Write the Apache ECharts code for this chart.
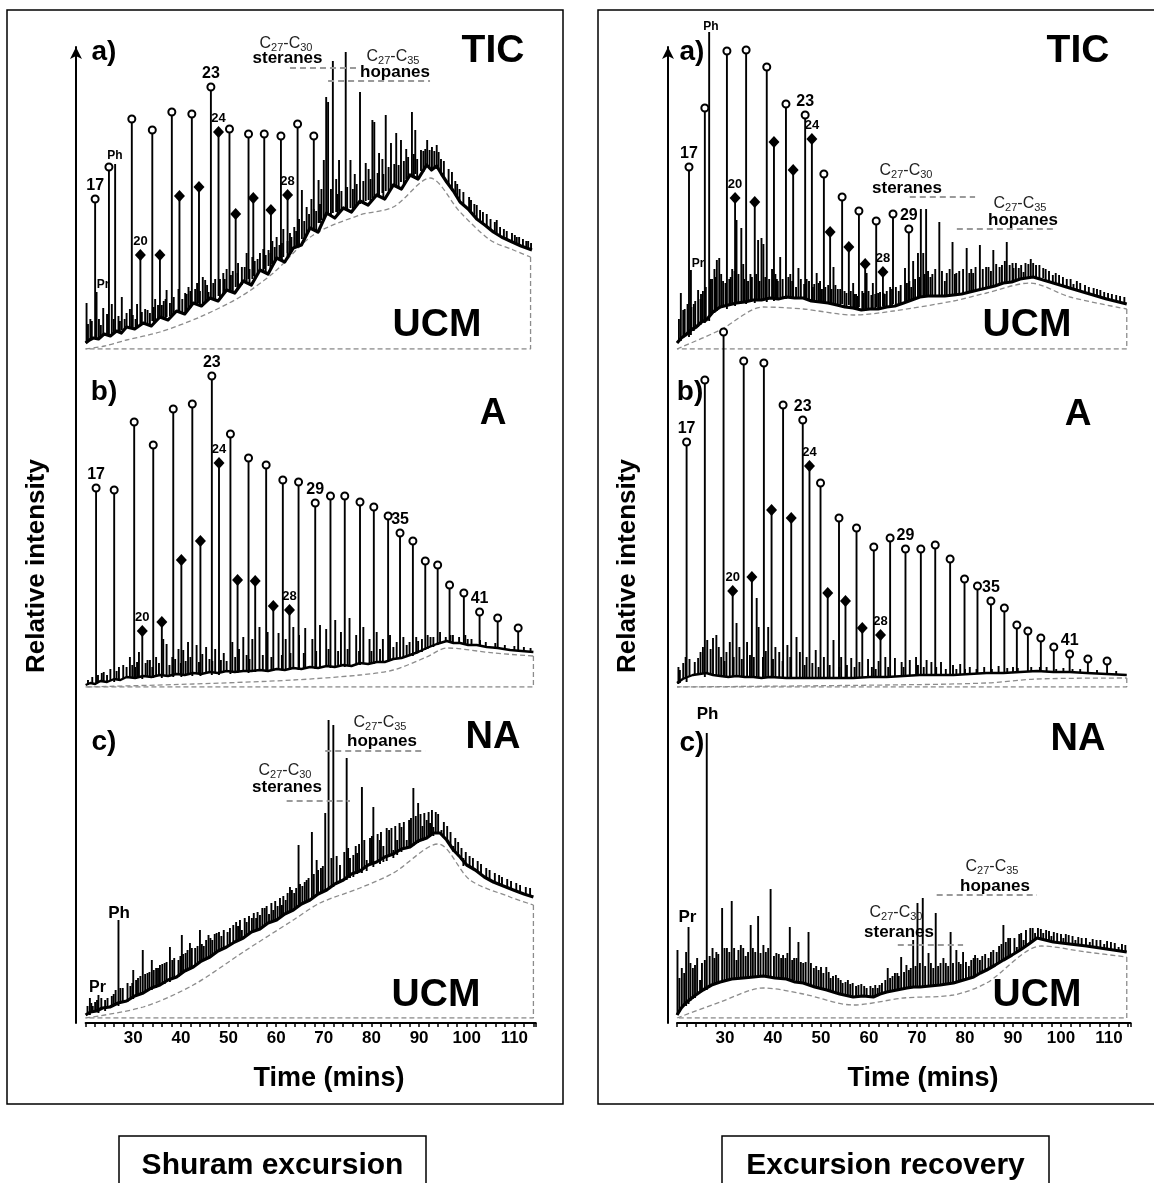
<!DOCTYPE html>
<html><head><meta charset="utf-8">
<script src="https://cdn.jsdelivr.net/npm/echarts@6/dist/echarts.min.js"></script>
<style>html,body{margin:0;padding:0;background:#fff}#c{width:1154px;height:1183px}</style>
</head><body><div id="c"></div>
<script>
// ---------------- DATA (time in min, intensity in relative units) ----------------
const xTickLabels = [30,40,50,60,70,80,90,100,110];

// ===== Shuram excursion (left) =====
// a) TIC
const sA_base = [[20,6],[20.8,9],[21.6,11],[22.7,10],[23.9,15],[25.2,13],[26.5,18],[27.5,16],[28.6,22],[30.3,20],[32.1,26],[33.8,23],[35.6,32],[37.3,29],[39.1,38],[40.8,35],[42.6,46],[44.3,43],[46.1,51],[47.8,48],[49.6,59],[51.3,56],[53.1,68],[54.8,64],[56.6,79],[58.3,75],[60.1,91],[61.8,87],[63.6,101],[65.3,104],[67.1,121],[68.8,117],[70.6,136],[72.3,131],[74.1,141],[75.8,137],[77.6,148],[79.3,144],[81.1,154],[82.8,150],[84.6,164],[86.3,160],[88.1,174],[89.8,170],[91.6,184],[92.6,179],[93.7,183],[94.7,175],[95.8,167],[97.2,158],[98.6,147],[100.3,140],[102.1,130],[103.8,124],[105.6,117],[107.3,112],[109.1,108],[111.4,103],[113.7,99]];
const sA_ucm = [[20,0],[24,3],[28.6,9],[35.6,17],[44,32],[52.4,52],[59.4,76],[67.8,114],[77.6,134],[84.6,142],[92.3,171],[98.6,137],[104.9,109],[109.8,99],[113.4,92]];
const sA_peaks = [[20.2,6,46],[22.3,11,57],[23.7,13,41],[26.2,16,185],[27.6,19,52],[28.6,21,36],[31.8,24,37],[33.0,25,39],[37.0,32,59],[37.7,33,46],[40.9,37,56],[45.1,48,69],[45.8,49,57],[48.9,56,76],[52.8,64,82],[53.8,68,96],[56.6,77,96],[58.4,83,99],[60.1,89,112],[62.9,97,116],[65.4,110,159],[66.4,115,142],[68.9,126,169],[70.0,131,189],[70.5,133,252],[70.9,134,247],[71.9,136,288],[73.2,138,189],[74.6,139,297],[75.6,141,189],[77.6,145,257],[78.8,148,186],[80.2,151,229],[80.6,152,227],[81.6,154,196],[83.0,158,234],[84.1,161,206],[85.2,164,216],[86.2,167,209],[88.5,173,237],[89.2,175,219],[90.4,178,199],[91.7,182,209],[92.7,181,202],[93.7,180,204],[96.9,158,177],[102.1,129,144],[106.3,114,129],[110.5,104,112],
  [21.0,9,30],[24.5,14,35],[25.5,14,45],[29.3,21,40],[30.8,22,45],[34.6,28,50],[36.4,30,48],[39.5,36,60],[41.6,40,62],[43.4,44,66],[44.6,46,72],[47.2,50,70],[49.6,57,80],[50.9,58,78],[52.0,62,86],[55.0,70,92],[57.3,78,100],[59.2,85,108],[61.5,92,120],[63.8,101,122],[64.8,104,130],[67.4,120,150],[69.5,129,160],[72.6,137,170],[76.5,142,175],[79.4,149,180],[82.3,156,190],[87.3,170,200],[94.6,176,190],[98.5,147,160],[100.5,139,152],[104.2,122,135],[108.4,109,118],[112.5,101,108]];
const sA_noise = [[20.5,7,25],[21.3,10,28],[22.8,11,30],[23.2,12,24],[25.9,15,30],[26.9,17,33],[27.2,17,28],[28.2,19,30],[29.9,21,34],[30.5,21,30],[32.5,25,40],[33.5,24,36],[34.3,27,42],[35.2,29,44],[36.0,31,44],[36.8,31,50],[38.5,34,52],[40.3,37,50],[41.2,38,55],[42.0,41,58],[43.0,45,60],[44.0,45,58],[45.5,48,64],[46.8,50,66],[48.2,52,70],[49.2,56,70],[50.5,58,74],[51.9,59,76],[53.4,66,82],[54.4,66,80],[55.5,70,88],[56.1,74,90],[57.8,77,94],[58.8,80,96],[59.7,86,102],[60.7,89,104],[61.2,89,106],[62.4,93,108],[63.2,97,112],[64.2,102,118],[65.9,110,128],[66.9,117,135],[67.9,120,140],[68.4,119,138],[69.2,126,145],[71.5,133,160],[72.9,134,155],[73.7,138,158],[74.9,139,162],[76.1,140,160],[76.9,144,165],[78.3,146,168],[79.8,148,170],[81.3,153,176],[82.5,152,175],[83.6,158,182],[84.8,162,185],[85.7,162,184],[86.8,165,188],[87.7,170,192],[88.9,172,195],[89.6,171,190],[90.9,177,198],[91.3,181,200],[92.2,182,199],[93.2,180,198],[94.1,181,197],[95.2,172,188],[96.2,165,180],[97.6,155,168],[98.0,152,165],[99.3,145,157],[100.9,137,149],[101.6,133,145],[102.8,128,139],[103.4,126,137],[105.0,120,130],[105.9,116,127],[107.0,113,122],[107.8,111,120],[109.5,107,116],[110.1,105,114],[111.0,104,112],[111.8,102,110],[112.9,101,108],[113.5,99,106]];
const sA_alk = [[22.0,10,150],[24.9,14,182],[29.7,21,230],[34.0,28,219],[38.1,34,237],[42.3,44,235],[46.3,51,262],[50.2,59,220],[54.2,70,215],[57.5,80,215],[61.0,91,213],[64.5,102,225],[67.9,120,213]];
const sA_dia = [[31.5,24,94],[35.6,30,94],[39.7,36,153],[43.8,46,162],[47.9,53,217],[51.5,62,135],[55.2,73,151],[58.9,85,139],[62.4,96,154]];
const sA_alkLab = [[0,'17'],[6,'23']];
const sA_diaLab = [[0,'20'],[4,'24'],[8,'28']];
const sA_ster = [62.9,76.9,281];
const sA_hop = [70.9,92.3,268];

// b) A (aliphatic)
const sB_base = [[20,2],[21,4],[22,3],[23.1,6],[24.5,5],[26,8],[27.3,7],[28.6,10],[30.4,9],[32.1,11],[33.8,10],[35.6,12],[37.3,11],[39.1,13],[40.8,12],[42.6,14],[44.3,13],[46.1,15],[47.8,14],[49.6,16],[51.3,15],[53.1,16],[54.8,16],[56.6,17],[58.3,16],[60.1,18],[61.8,17],[63.6,19],[65.3,18],[67.1,20],[68.8,19],[70.6,21],[72.3,20],[74.1,22],[75.8,21],[77.6,24],[79.3,23],[81.1,25],[82.8,25],[84.6,28],[86.3,29],[88.1,32],[89.8,35],[91.6,39],[93.7,43],[95.8,46],[97.2,44],[98.6,44],[100.3,42],[102.1,42],[104.2,40],[106.5,39],[109.1,37],[111.5,36],[114,35]];
const sB_ucm = [[20,0],[42.6,3],[63.6,7],[77.6,12],[84.6,17],[91.6,30],[95.8,39],[105.6,34],[114,31]];
const sB_peaks = [[20.5,2,7],[23.4,5,14],[27.9,8,22],[28.6,9,20],[33.0,11,27],[33.5,11,27],[37.0,12,43],[40.5,13,37],[45.3,13,40],[49.0,15,34],[53.1,15,50],[56.5,16,60],[60.5,17,54],[63.6,18,60],[66.1,19,59],[69.2,20,62],[72.4,21,67],[75.4,22,69],[78.3,23,60],[81.1,25,55],[83.9,27,52],[86.7,29,50],[89.4,33,50],[91.8,38,52],[94.4,43,55],[97.1,45,52],[99.7,43,52],
  [24.5,5,12],[25.2,6,18],[29.3,9,30],[30.8,9,25],[31.2,9,35],[34.8,10,30],[36.3,11,48],[38.8,12,28],[39.5,12,38],[41.5,13,45],[43.3,13,42],[44.5,13,33],[47.2,14,38],[50.8,15,45],[52.2,15,38],[55.0,16,48],[58.2,16,55],[62.0,17,48],[64.8,18,52],[67.6,19,48],[70.5,20,58],[73.6,21,55],[76.8,22,52],[79.6,24,48],[82.4,26,48],[85.3,28,45],[88.0,31,45],[90.6,35,48],[93.0,40,50],[95.6,45,50],[98.4,44,50],[101,43,48],[104,41,45],[108,38,42],[112,36,40]];
const sB_noise = [[21.4,3,10],[22.6,4,12],[23.8,5,15],[26.5,7,16],[27.0,7,20],[29.8,9,22],[30.4,9,20],[32.6,10,24],[34.0,10,20],[35.4,11,24],[37.6,11,22],[38.2,12,30],[40.0,12,24],[41.0,12,26],[42.0,13,30],[43.8,13,25],[46.0,14,28],[46.6,14,26],[48.4,15,27],[49.6,15,26],[51.4,15,30],[53.8,16,32],[54.4,16,28],[57.2,16,32],[59.0,17,30],[61.2,17,32],[63.0,18,34],[65.8,19,34],[68.4,20,36],[71.0,21,38],[73.0,21,36],[75.0,22,38],[77.4,23,36],[80.0,24,36],[81.8,25,38],[84.6,27,40],[87.4,30,42],[89.8,34,46],[92.4,40,50],[96.6,45,52],[100.2,43,48],[102.8,42,47],[106,40,44],[110,37,41],[113.4,35,39]];
const sB_alk = [[22.2,3,199],[26.0,5,197],[30.2,8,265],[34.2,9,242],[38.4,10,278],[42.4,11,283],[46.5,12,311],[50.4,13,253],[54.2,14,229],[57.9,15,222],[61.4,16,207],[64.7,17,205],[68.2,18,184],[71.4,19,191],[74.4,20,191],[77.6,22,185],[80.5,23,180],[83.5,25,171],[86.0,28,154],[88.7,31,146],[91.3,37,126],[93.9,42,122],[96.4,45,102],[99.4,44,94],[102.7,42,75],[106.5,39,69],[110.8,36,59]];
const sB_dia = [[31.9,8,56],[36.0,9,65],[40.1,10,127],[44.1,11,146],[48.0,12,224],[51.9,14,107],[55.6,15,106],[59.4,16,81],[62.8,17,77]];
const sB_alkLab = [[0,'17'],[6,'23'],[12,'29'],[18,'35'],[24,'41']];
const sB_diaLab = [[0,'20'],[4,'24'],[8,'28']];

// c) NA (non-aliphatic)
const sC_base = [[20,3],[21,6],[22.3,7],[23.5,10],[25.1,11],[26.8,15],[28.6,17],[30.3,22],[32.1,25],[33.8,30],[35.6,33],[37.3,38],[39.1,41],[40.8,47],[42.6,51],[44.3,57],[46.1,61],[47.8,67],[49.6,71],[51.3,76],[53.1,80],[54.8,86],[56.6,89],[58.3,95],[60.1,98],[61.8,104],[63.6,108],[65.3,114],[67.1,118],[68.8,124],[70.6,128],[72.3,134],[74.1,138],[75.8,144],[77.6,147],[79.3,153],[81.1,156],[82.8,161],[84.6,164],[86.3,169],[88.1,171],[89.8,177],[91.6,180],[93,185],[94.4,185],[95.8,178],[97.2,168],[98.6,161],[100,153],[101.8,148],[103.7,141],[105.6,136],[107.7,132],[109.8,128],[112,124],[114,121]];
const sC_ucm = [[20,0],[32.1,11],[42.6,33],[53.1,66],[63.6,98],[69.2,115],[77.6,130],[84.6,145],[94,174],[100.7,138],[109.1,121],[114,113]];
const sC_peaks = [[20.9,3,20],[22.7,5,23],[24.1,7,18],[26.9,12,98],[30.0,19,48],[32.0,25,68],[33.9,28,58],[35.6,32,53],[37.7,36,71],[40.2,44,83],[41.9,49,75],[44.0,55,88],[45.8,59,83],[47.5,65,85],[51.0,75,93],[52.8,79,88],[54.9,85,100],[56.6,90,103],[59.4,96,108],[61.2,101,113],[62.9,106,131],[64.7,111,173],[66.4,116,138],[67.5,119,186],[68.5,122,158],[70.3,127,205],[71.0,129,298],[72.0,131,293],[73.4,135,153],[74.8,138,260],[76.2,141,163],[78.0,145,231],[79.0,147,158],[80.4,151,211],[81.8,154,178],[83.2,157,190],[84.6,160,168],[86.3,166,191],[87.4,169,178],[88.8,172,230],[89.8,175,215],[91.6,179,198],[93.0,182,191],[94.7,183,188],[97.2,166,172],[99.3,152,160],
  [21.5,5,12],[23.3,8,20],[25.5,11,22],[27.8,15,30],[28.8,16,35],[31.0,22,40],[33.0,27,45],[34.8,30,50],[36.6,34,55],[38.6,39,60],[39.5,41,58],[41.0,46,65],[43.0,52,70],[44.8,57,72],[46.6,62,78],[48.5,68,82],[49.8,71,86],[52.0,77,92],[53.8,82,96],[55.8,88,100],[57.6,92,110],[58.5,95,104],[60.3,99,112],[62.0,104,118],[63.8,108,125],[65.5,114,132],[69.4,125,150],[75.5,140,160],[77.0,144,165],[82.5,156,172],[85.4,163,178],[90.7,177,192],[92.3,181,195]];
const sC_noise = [[20.4,4,12],[21.2,6,15],[22.0,7,16],[22.4,7,18],[24.6,10,20],[25.9,13,24],[26.3,14,28],[27.3,15,30],[29.4,19,32],[29.8,21,35],[30.6,22,38],[31.5,23,42],[32.5,26,44],[33.4,28,46],[34.3,31,48],[35.2,32,50],[36.1,35,54],[37.0,37,56],[38.2,39,58],[39.9,44,62],[40.5,46,64],[41.4,48,68],[42.3,50,70],[43.5,54,72],[44.4,57,74],[45.3,59,78],[46.2,61,80],[47.1,65,84],[48.0,67,86],[49.0,70,88],[50.3,73,90],[51.6,77,96],[52.4,79,98],[53.4,81,100],[54.3,85,102],[55.3,87,105],[56.1,89,106],[57.1,91,110],[58.0,94,112],[59.0,96,115],[59.8,98,117],[60.8,101,120],[61.5,103,122],[62.4,106,125],[63.3,107,128],[64.2,110,130],[65.0,113,134],[66.0,115,136],[66.8,117,140],[67.9,120,144],[68.8,124,148],[69.8,126,152],[71.6,131,160],[72.7,134,162],[74.3,138,166],[75.1,141,170],[76.7,144,172],[77.4,146,174],[78.5,149,178],[79.7,153,180],[80.1,154,182],[81.3,156,184],[82.0,158,186],[83.7,161,188],[84.2,162,190],[85.0,164,192],[85.9,167,195],[86.8,169,196],[87.9,171,198],[88.3,172,200],[89.3,175,202],[90.3,177,204],[91.1,179,205],[92.0,181,206],[92.7,183,208],[93.5,185,206],[94.0,185,204],[95.2,180,196],[95.9,177,192],[96.6,172,186],[97.6,166,180],[98.2,163,176],[98.9,158,170],[99.8,154,166],[100.6,151,162],[101.3,149,160],[102.3,146,157],[103.0,143,154],[104.1,140,150],[104.8,138,148],[105.9,135,145],[106.8,133,143],[107.4,132,141],[108.5,130,139],[109.3,129,137],[110.4,127,135],[111.2,125,133],[112.4,123,131],[113.3,122,130]];
const sC_ster = [62.2,75.5,217];
const sC_hop = [70.3,91.3,267];

// ===== Excursion recovery (right) =====
// a) TIC
const rA_base = [[20,6],[20.9,11],[21.8,14],[22.9,19],[24,22],[25.1,27],[26.1,29],[27.5,37],[29,42],[30.7,44],[32.4,46],[34.1,47],[35.9,49],[37.6,49],[39.4,51],[41.1,50],[42.8,52],[44.5,51],[46.3,51],[48,48],[49.8,47],[51.5,46],[53.3,44],[55,42],[56.7,41],[58.4,39],[60.2,40],[61.9,40],[63.7,42],[65.4,43],[67.2,46],[68.9,49],[70.6,52],[72.3,53],[74.1,53],[75.8,53],[77.6,54],[79.3,55],[81,57],[82.7,59],[84.5,61],[86.2,63],[88,66],[89.7,67],[91.5,70],[92.8,71],[94.2,72],[96.3,69],[98.4,66],[101.8,61],[105.3,56],[109.5,50],[113.7,45]];
const rA_ucm = [[20,0],[29,19],[38,42],[46.3,40],[56.7,34],[65.1,38],[77.6,48],[84.5,56],[93.5,66],[101.9,52],[113.7,40]];
const rA_peaks = [[20.8,8,56],[21.3,11,39],[22.9,14,79],[24.4,22,59],[24.9,24,50],[26.7,28,317],[28.3,38,89],[28.8,40,91],[29.2,41,75],[32.4,45,129],[33.4,46,121],[36.9,48,109],[37.6,49,111],[38.0,49,105],[41.5,52,92],[45.3,51,81],[49.1,48,76],[49.8,47,68],[52.6,46,82],[56.7,41,66],[59.5,40,76],[60.8,40,66],[64.4,43,62],[67.5,47,81],[69.2,50,88],[70.2,52,96],[70.8,52,140],[71.3,52,96],[71.9,53,140],[72.8,53,72],[74.65,53,127],[75.8,53,68],[77.4,54,107],[78.2,55,76],[80.35,57,101],[81.7,58,76],[83.1,59,104],[84.4,61,82],[85.9,62,99],[87.2,64,82],[88.7,66,107],[90.1,68,81],[91.2,69,81],[92.2,70,77],[93.7,72,90],[96.3,71,81],[98.3,66,74],[102.6,60,65],[108.2,51,59],
  [23.5,18,45],[25.0,25,55],[27.3,35,70],[27.8,36,80],[30.9,44,70],[31.5,45,80],[33.8,46,85],[35.3,47,75],[39.8,51,80],[40.8,50,70],[43.6,51,75],[44.8,51,62],[47.0,50,70],[48.6,48,65],[50.2,47,60],[53.5,44,60],[54.9,43,58],[57.3,41,55],[58.6,40,58],[61.9,41,56],[63.3,42,55],[66.2,45,58],[68.8,48,62]];
const rA_noise = [[20.4,7,30],[21.6,13,40],[22.2,15,45],[23.0,19,42],[23.8,21,48],[25.4,27,58],[26.0,29,62],[27.0,33,70],[28.0,37,72],[29.6,42,68],[30.1,43,66],[31.2,44,72],[32.0,45,78],[32.8,46,75],[34.0,47,70],[34.8,47,68],[35.6,48,72],[36.5,49,75],[37.2,49,68],[38.4,50,72],[39.2,51,70],[40.5,50,75],[41.0,50,68],[42.0,51,70],[43.2,51,72],[44.0,51,68],[45.8,51,70],[46.5,51,65],[47.5,49,68],[48.3,48,62],[49.5,47,66],[50.9,46,62],[51.5,46,64],[52.2,46,60],[53.0,45,64],[54.0,43,60],[55.3,42,56],[56.2,41,58],[57.0,41,55],[57.7,40,53],[58.9,40,56],[59.9,40,58],[60.5,40,54],[61.3,40,55],[62.3,41,57],[63.0,41,56],[63.7,42,58],[64.8,43,60],[65.6,44,62],[66.6,45,64],[67.9,47,66],[68.4,48,68],[69.6,50,70],[70.5,52,72],[71.6,52,75],[72.3,53,78],[73.2,53,75],[73.8,53,80],[75.2,53,78],[76.2,53,76],[76.8,54,80],[77.9,54,75],[78.8,55,78],[79.6,55,80],[80.9,57,76],[81.3,57,80],[82.2,58,82],[83.7,59,80],[84.9,61,82],[85.4,62,78],[86.5,63,85],[87.7,65,84],[88.3,66,88],[89.3,67,84],[89.9,68,86],[90.6,69,86],[91.7,70,84],[92.6,70,86],[93.2,71,85],[94.2,72,86],[94.8,71,84],[95.5,70,84],[96.8,69,80],[97.5,68,78],[98.9,65,76],[99.6,64,74],[100.4,63,72],[101.2,62,70],[102.0,61,70],[103.3,59,68],[104.0,58,66],[105.0,56,64],[105.8,55,62],[106.8,54,61],[107.5,52,60],[109.0,51,57],[109.8,50,56],[110.6,49,55],[111.5,48,54],[112.3,47,53],[113.2,46,52]];
const rA_alk = [[22.5,12,182],[25.8,26,241],[30.4,40,298],[34.4,45,299],[38.7,47,282],[42.7,50,245],[46.7,50,234],[50.6,48,175],[54.4,45,152],[57.9,42,138],[61.5,42,128],[65.0,45,135],[68.3,48,120]];
const rA_dia = [[32.1,43,151],[36.2,46,147],[40.2,48,207],[44.2,50,179],[48.1,49,210],[51.9,47,117],[55.8,44,102],[59.2,41,85],[62.9,43,77]];
const rA_alkLab = [[0,'17'],[6,'23'],[12,'29']];
const rA_diaLab = [[0,'20'],[4,'24'],[8,'28']];
const rA_ster = [68.5,82.1,152];
const rA_hop = [78.3,99.1,120];

// b) A
const rB_base = [[20,4],[21.2,8],[22.2,10],[23.3,12],[24.7,13],[26.1,14],[27.5,12],[29,11],[30.7,10],[32.4,11],[34.1,10],[35.9,10],[37.6,9],[39.4,10],[42.8,9],[46.3,9],[49.8,9],[53.3,9],[56.7,9],[60.2,10],[63.7,10],[67.2,11],[70.6,12],[74.1,12],[77.6,12],[81,13],[84.5,14],[88,14],[91.5,15],[95,16],[98.4,15],[101.8,15],[105.3,14],[109.5,13],[113.7,12]];
const rB_ucm = [[20,0],[63.7,2],[84.5,4],[94.9,8],[113.7,9]];
const rB_peaks = [[20.3,3,20],[20.6,4,17],[21.3,8,24],[23.7,12,25],[24.4,13,29],[26.3,14,47],[27.5,12,49],[28.2,12,52],[28.7,11,40],[30.3,10,35],[31.0,10,45],[32.4,11,64],[33.0,10,40],[34.6,10,45],[36.6,10,89],[37.0,10,60],[39.0,10,60],[40.5,10,40],[41.3,10,35],[43.0,9,42],[44.9,9,50],[45.6,9,35],[47.0,9,30],[48.9,9,37],[50.6,9,30],[52.6,9,47],[54.2,9,30],[56.3,9,29],[58.0,9,25],[59.8,10,28],[62.0,10,26],[63.4,10,30],[65.4,11,29],[66.8,11,25],[68.5,11,27],[69.8,12,30],[72.0,12,27],[73.0,12,25],[75.0,12,25],[77.5,12,22],[79.0,13,23],[81.0,13,20],[84.0,14,20],[87.0,14,21],[90.0,15,20],[93.8,16,20],[97.0,15,20],[100.5,15,19],[104,14,18],[107.5,13,17],[111.5,12,16],
  [21.8,9,30],[22.6,10,28],[24.9,13,35],[25.4,13,40],[27.0,13,38],[29.2,11,30],[29.9,10,26],[31.8,10,30],[33.5,10,28],[35.2,10,32],[36.0,10,30],[37.9,10,30],[38.5,10,36],[40.0,10,28],[42.0,9,26],[43.6,9,30],[46.6,9,22],[48.2,9,24],[49.5,9,20],[51.8,9,22],[53.8,9,20],[55.4,9,22],[57.0,9,20],[60.6,10,20],[61.4,10,18],[64.0,10,20],[67.2,11,20],[70.2,12,22],[71.4,12,20],[74.0,12,20],[76.0,12,18],[78.2,12,18],[80.0,13,18],[82.4,13,18],[85.6,14,18],[88.8,14,19],[91.0,15,19],[95.6,16,20],[99.0,15,18],[102.4,15,18]];
const rB_alk = [[22.0,5,245],[25.8,10,307],[29.7,11,355],[33.9,10,326],[38.1,10,324],[42.1,10,282],[46.2,9,267],[49.9,9,204],[53.75,9,169],[57.4,9,159],[61.0,10,140],[64.4,10,149],[67.6,11,138],[70.8,12,138],[73.8,12,142],[76.9,12,128],[79.9,13,108],[82.6,13,101],[85.4,14,86],[88.2,14,79],[90.8,15,62],[93.1,15,56],[95.8,16,49],[98.5,15,40],[101.8,15,33],[105.6,14,28],[109.6,13,26]];
const rB_dia = [[31.6,10,96],[35.6,10,110],[39.7,10,177],[43.8,9,169],[47.6,9,221],[51.4,9,94],[55.1,9,86],[58.6,9,59],[62.4,10,52]];
const rB_alkLab = [[0,'17'],[6,'23'],[12,'29'],[18,'35'],[24,'41']];
const rB_diaLab = [[0,'20'],[4,'24'],[8,'28']];

// c) NA
const rC_base = [[20,3],[20.9,10],[21.8,15],[23.6,22],[25.4,28],[27.2,33],[29,36],[31.4,39],[33.8,40],[35.9,41],[38,42],[40.4,40],[42.8,39],[44.6,36],[46.3,35],[48.7,31],[51.2,28],[53.9,24],[56.7,21],[58.8,22],[60.9,21],[62.3,24],[63.7,26],[65.8,28],[67.9,30],[69.3,31],[70.6,31],[72.7,32],[74.8,33],[76.2,34],[77.6,35],[79.7,38],[81.8,41],[83.2,45],[84.5,48],[86.3,53],[88,58],[89.8,63],[91.5,68],[93.3,74],[95,80],[96.7,78],[98.4,76],[101.8,74],[105.3,72],[109.5,69],[113.7,66]];
const rC_ucm = [[20,0],[29,16],[38,30],[46.3,24],[56.7,13],[67.2,20],[77.6,23],[84.5,35],[96,72],[105.3,66],[113.7,61]];
const rC_peaks = [[20.1,3,68],[21.9,12,66],[22.4,14,91],[23.75,20,53],[24.8,25,38],[26.2,28,285],[27.4,33,70],[28.2,35,66],[29.4,37,110],[30.4,38,70],[31.4,38,117],[32.4,39,58],[33.3,39,73],[34.3,40,62],[35.35,40,93],[36.9,41,102],[38.0,42,73],[39.5,42,129],[40.7,41,65],[42.1,40,63],[43.5,39,91],[44.4,38,60],[45.3,36,76],[46.3,35,55],[47.4,33,86],[48.5,32,50],[50.0,30,51],[51.1,28,51],[52.0,27,40],[53.1,25,43],[54.5,23,35],[55.6,22,38],[56.6,21,35],[57.8,21,33],[59.0,21,32],[60.8,21,30],[62.2,23,33],[63.9,26,50],[65.4,27,45],[66.7,28,61],[67.8,29,53],[69.2,30,78],[70.1,31,115],[71.2,31,120],[72.4,32,65],[73.9,32,105],[75.5,33,60],[77.0,34,86],[78.2,35,68],[79.6,37,66],[80.8,39,52],[82.1,42,63],[83.1,45,58],[84.9,49,60],[86.6,54,66],[88.0,58,93],[89.0,61,80],[90.8,66,71],[92.2,70,78],[94.6,78,85],[96.3,79,85],[98,76,82],[100.5,75,80],[103,73,78],[106,72,76],[109,70,74],[112,67,71]];
const rC_noise = [[20.5,6,40],[21.0,10,50],[21.5,13,45],[22.8,17,55],[23.3,19,50],[24.2,23,60],[25.2,27,55],[25.8,28,58],[26.8,31,62],[27.8,34,60],[28.6,35,64],[29.9,37,70],[30.9,38,66],[31.9,39,70],[32.8,39,68],[33.8,40,70],[34.8,40,66],[35.8,41,70],[36.3,41,66],[37.4,41,65],[38.5,42,66],[39.0,42,70],[40.2,41,62],[41.2,40,64],[41.7,40,60],[42.6,39,60],[43.0,39,65],[44.0,38,58],[44.9,37,60],[45.8,35,56],[46.8,34,56],[47.9,32,55],[49.0,31,52],[49.5,30,48],[50.5,29,45],[51.6,28,46],[52.5,26,42],[53.6,25,40],[54.1,24,38],[55.1,23,36],[56.1,21,34],[57.3,21,32],[58.4,21,34],[59.5,21,30],[60.3,21,32],[61.3,22,33],[61.8,22,30],[62.7,24,35],[63.4,25,38],[64.4,26,40],[64.9,27,42],[65.9,28,45],[66.2,28,42],[67.3,29,46],[68.3,30,48],[68.7,30,50],[69.7,31,52],[70.6,31,55],[71.7,31,52],[72.9,32,55],[73.4,32,50],[74.4,33,52],[74.9,33,55],[76.0,34,55],[76.5,34,52],[77.5,35,55],[78.7,36,56],[79.1,37,54],[80.2,38,56],[81.3,40,58],[81.8,41,60],[82.6,43,60],[83.6,46,62],[84.2,48,64],[85.4,50,66],[85.9,52,68],[87.1,55,72],[87.6,57,74],[88.5,59,76],[89.4,62,80],[90.3,64,80],[91.3,68,84],[91.7,69,85],[92.7,72,88],[93.6,75,90],[94.1,77,90],[95.2,80,90],[95.8,79,89],[96.9,78,88],[97.5,77,87],[98.5,76,86],[99.2,76,85],[100.0,75,84],[101.0,75,84],[101.6,74,83],[102.4,74,82],[103.6,73,81],[104.3,73,80],[105.2,72,80],[106.6,71,79],[107.4,71,78],[108.2,70,78],[109.6,69,77],[110.4,68,76],[111.2,68,75],[112.7,67,74],[113.4,66,73]];
const rC_ster = [66.0,79.6,73];
const rC_hop = [74.1,95.0,123];

// ---------------- LAYOUT ----------------
const FONT = '"Liberation Sans", Arial, Helvetica, sans-serif';
const X_MIN = 20, X_MAX = 114.5;
const ROWS = [{top:10,h:339},{top:360,h:327},{top:700,h:318}];
const COLS = [{left:85.6,w:450.2},{left:677,w:453.6}];
const AXIS_OFFSET = 5;
const TRACE_W = [3.2, 2.4, 3.2];

const panels = [
  {col:0,row:0,base:sA_base,ucm:sA_ucm,peaks:sA_peaks.concat(sA_noise),alk:sA_alk,dia:sA_dia,alkLab:sA_alkLab,diaLab:sA_diaLab,ann:[sA_ster,sA_hop]},
  {col:0,row:1,base:sB_base,ucm:sB_ucm,peaks:sB_peaks.concat(sB_noise),alk:sB_alk,dia:sB_dia,alkLab:sB_alkLab,diaLab:sB_diaLab,ann:[]},
  {col:0,row:2,base:sC_base,ucm:sC_ucm,peaks:sC_peaks.concat(sC_noise),alk:[],dia:[],alkLab:[],diaLab:[],ann:[sC_ster,sC_hop]},
  {col:1,row:0,base:rA_base,ucm:rA_ucm,peaks:rA_peaks.concat(rA_noise),alk:rA_alk,dia:rA_dia,alkLab:rA_alkLab,diaLab:rA_diaLab,ann:[rA_ster,rA_hop]},
  {col:1,row:1,base:rB_base,ucm:rB_ucm,peaks:rB_peaks,alk:rB_alk,dia:rB_dia,alkLab:rB_alkLab,diaLab:rB_diaLab,ann:[]},
  {col:1,row:2,base:rC_base,ucm:rC_ucm,peaks:rC_peaks.concat(rC_noise),alk:[],dia:[],alkLab:[],diaLab:[],ann:[rC_ster,rC_hop]}
];

function spikeRender(params, api){
  const a = api.coord([api.value(0), api.value(1)]);
  const b = api.coord([api.value(0), api.value(2)]);
  return {type:'line', shape:{x1:a[0],y1:a[1],x2:b[0],y2:b[1]}, style:{stroke:'#000', lineWidth:1.9}};
}
function markerData(arr, labs, size){
  const m = new Map(labs);
  return arr.map((p,i)=>{
    const it = {value:[p[0],p[2]]};
    if (m.has(i)) it.label = {show:true, formatter:m.get(i), position:'top', distance:1,
      fontSize:size, fontWeight:'bold', color:'#000', fontFamily:FONT};
    return it;
  });
}

const grids=[], xAxes=[], yAxes=[], series=[];
panels.forEach((p,i)=>{
  const c = COLS[p.col], r = ROWS[p.row];
  grids.push({left:c.left, top:r.top, width:c.w, height:r.h, outerBoundsMode:'none', containLabel:false});
  const showX = p.row===2;
  xAxes.push({gridIndex:i, type:'value', min:X_MIN, max:X_MAX, show:showX, interval:2, offset:AXIS_OFFSET,
    axisLine:{show:true,onZero:false,lineStyle:{color:'#000',width:2}},
    axisTick:{show:true,length:4,lineStyle:{color:'#000',width:1.5}},
    axisLabel:{show:true, margin:7, color:'#000', fontSize:17, fontWeight:'bold', fontFamily:FONT,
      formatter:v=> xTickLabels.indexOf(Math.round(v))>=0 && Math.abs(v-Math.round(v))<1e-6 ? String(Math.round(v)) : ''},
    splitLine:{show:false}});
  yAxes.push({gridIndex:i, type:'value', min:0, max:r.h, show:false, splitLine:{show:false}});
  const u = p.ucm, last = u[u.length-1], first = u[0];
  series.push({type:'line', xAxisIndex:i, yAxisIndex:i, data:u, showSymbol:false, smooth:0.3, silent:true, z:1,
    lineStyle:{color:'#8c8c8c', width:1.3, type:[5,3]},
    markLine:{silent:true, symbol:['none','none'], label:{show:false}, animation:false,
      lineStyle:{type:[6,4], color:'#9a9a9a', width:2},
      data:p.ann.map(a=>[{coord:[a[0],a[2]]},{coord:[a[1],a[2]]}])}});
  series.push({type:'line', xAxisIndex:i, yAxisIndex:i, data:[last,[last[0],0],[first[0],0]], showSymbol:false, silent:true, z:1,
    lineStyle:{color:'#8c8c8c', width:1.3, type:[5,3]}});
  series.push({type:'line', xAxisIndex:i, yAxisIndex:i, data:p.base, showSymbol:false, silent:true, z:3,
    lineStyle:{color:'#000', width:TRACE_W[p.row], join:'round'}});
  series.push({type:'custom', xAxisIndex:i, yAxisIndex:i, renderItem:spikeRender, clip:false, silent:true, z:4,
    encode:{x:0,y:[1,2]}, data:p.peaks.concat(p.alk, p.dia)});
  if (p.alk.length) series.push({type:'scatter', xAxisIndex:i, yAxisIndex:i, clip:false, silent:true, z:6,
    symbol:'circle', symbolSize:7, itemStyle:{color:'#fff', borderColor:'#000', borderWidth:2, opacity:1},
    data:markerData(p.alk, p.alkLab, 16)});
  if (p.dia.length) series.push({type:'scatter', xAxisIndex:i, yAxisIndex:i, clip:false, silent:true, z:6,
    symbol:'diamond', symbolSize:[11,12], itemStyle:{color:'#000', opacity:1},
    data:markerData(p.dia, p.diaLab, 13)});
});
// tall arrow y-axes
[76, 668].forEach((lx,k)=>{
  const gi = grids.length;
  grids.push({left:lx, top:47, width:10, height:976, outerBoundsMode:'none', containLabel:false});
  xAxes.push({gridIndex:gi, type:'value', show:false, min:0, max:1});
  yAxes.push({gridIndex:gi, type:'value', min:0, max:1, position:'left',
    axisLine:{show:true,onZero:false,symbol:['none','arrow'],symbolSize:[9,12],lineStyle:{color:'#000',width:2}},
    axisTick:{show:false}, axisLabel:{show:false}, splitLine:{show:false}});
});

// ---------------- TEXT / FRAMES ----------------
function T(t,x,y,size,bold=true,rot=0){
  return {type:'text', x, y, rotation:rot, z:20, silent:true,
    style:{text:t, font:(bold?'bold ':'')+size+'px '+FONT, fill:'#000', align:'center', verticalAlign:'middle'}};
}
function CC(a,b,x,y){
  return {type:'text', x, y, z:20, silent:true,
    style:{text:'{n|C}{s|'+a+'}{n|-C}{s|'+b+'}', fill:'#222', align:'center', verticalAlign:'middle',
      rich:{n:{fontSize:16, fontFamily:FONT, lineHeight:20, fill:'#222'},
            s:{fontSize:11, fontFamily:FONT, lineHeight:12, padding:[8,0,0,0], fill:'#222'}}}};
}
const graphic = [
  {type:'rect', shape:{x:7,y:10,width:556,height:1094}, style:{fill:'none',stroke:'#000',lineWidth:1.5}, silent:true},
  {type:'rect', shape:{x:598,y:10,width:600,height:1094}, style:{fill:'none',stroke:'#000',lineWidth:1.5}, silent:true},
  {type:'rect', shape:{x:119,y:1136,width:307,height:80}, style:{fill:'none',stroke:'#000',lineWidth:1.5}, silent:true},
  {type:'rect', shape:{x:722,y:1136,width:327,height:80}, style:{fill:'none',stroke:'#000',lineWidth:1.5}, silent:true},
  T('Shuram excursion',272.5,1166,30), T('Excursion recovery',885.5,1166,30),
  T('Time (mins)',329,1079,27), T('Time (mins)',923,1079,27),
  T('Relative intensity',37,566,26,true,Math.PI/2), T('Relative intensity',628,566,26,true,Math.PI/2),
  // left panel
  T('a)',104,52,28), T('TIC',493,51,39), T('UCM',437,325,39), T('Ph',115,156,12), T('Pr',103,285,12),
  CC('27','30',286,44), T('steranes',287.5,58,17), CC('27','35',393,57), T('hopanes',395,72,17),
  T('b)',104,392,28), T('A',493,414,37),
  T('c)',104,742,28), T('NA',493,738,38), CC('27','35',380,723), T('hopanes',382,741,17),
  CC('27','30',285,771), T('steranes',287,787,17), T('Ph',119,913,17), T('Pr',97.5,988,16), T('UCM',436,995,39),
  // right panel
  T('a)',692,52,28), T('TIC',1078,51,39), T('UCM',1027,325,39), T('Ph',711,27,12), T('Pr',698,264,12),
  CC('27','30',906,171), T('steranes',907,188,17), CC('27','35',1020,204), T('hopanes',1023,220,17),
  T('b)',690,392,28), T('A',1078,415,37),
  T('c)',692,743,28), T('NA',1078,740,38), CC('27','35',992,867), T('hopanes',995,886,17),
  CC('27','30',896,913), T('steranes',899,932,17), T('Ph',707.5,714,17), T('Pr',687.5,917,17), T('UCM',1037,995,39)
];

const chart = echarts.init(document.getElementById('c'), null, {renderer:'canvas'});
chart.setOption({animation:false, backgroundColor:'#fff', grid:grids, xAxis:xAxes, yAxis:yAxes, series, graphic});
</script></body></html>
